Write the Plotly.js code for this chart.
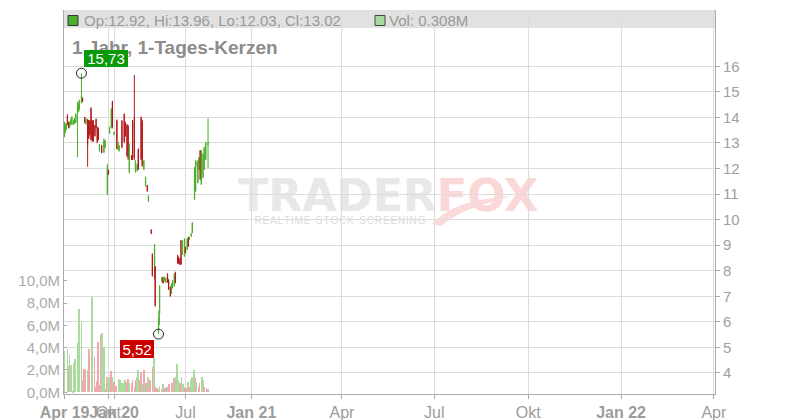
<!DOCTYPE html>
<html><head><meta charset="utf-8">
<script src="https://cdn.plot.ly/plotly-3.0.1.min.js"></script>
<style>html,body{margin:0;padding:0;background:#fff}#chart{width:800px;height:420px}</style>
</head><body><div id="chart"></div>
<script>
// trading-day index of each candle (x axis unit = one trading day)
const candleDay = [0,1,3,5,7,9,11,13,16,18, 20,23,25,26,30,32,36,38,41,43, 45,47,49,51,54,56,58,60,62,66, 70,72,76,78,80,83,85,88,93,95,
  97,102,106,108,111,113,115,119,121,124, 126,129,131,136,138,141,144,147,149,154, 156,160,161,167,168,169,173,175,177,180,
  183,185,188,190,192,195,197,201,202,205, 207,209,213,215,218,220,222,225,227,231, 233,236,237,239,241,243,246,248,251,255];
const openP = [13.35,13.42,13.52,14.05,13.80,13.62,13.72,13.72,13.72,13.78, 13.80,14.22,14.22,14.32,14.58,14.75,14.00,13.75,13.90,13.88,
  13.85,14.35,13.85,13.85,13.68,13.92,13.60,13.55,12.70,12.90, 12.65,12.82,11.00,11.94,13.37,13.60,14.60,13.33,13.88,12.75,
  12.70,13.85,14.12,13.80,13.70,13.65,11.85,12.50,13.85,14.00, 11.88,11.92,12.75,14.00,13.85,11.97,11.32,11.34,10.72,9.60,
  8.65,7.70,8.15,5.60,5.90,6.35,7.58,7.72,7.60,7.55, 7.88,7.65,7.36,7.11,7.33,7.40,7.94,8.60,8.53,8.47,
  9.18,8.64,8.57,8.92,8.83,9.31,9.21,9.34,9.48,10.80, 11.12,12.25,11.44,11.96,12.70,11.38,11.65,11.96,12.35,12.92];
const highP = [13.83,13.77,13.77,14.13,13.83,13.85,13.96,14.05,13.92,13.98, 14.17,14.61,14.56,14.70,15.73,14.78,14.02,13.98,13.94,13.90,
  13.90,14.40,13.90,13.90,13.70,13.96,13.64,13.60,12.96,12.92, 13.18,13.12,12.18,11.96,13.64,14.36,14.65,13.44,13.92,13.05,
  12.92,13.90,14.16,13.83,13.74,13.70,12.99,12.53,13.90,15.66, 12.33,12.20,12.79,14.03,13.90,12.33,11.68,11.36,10.96,9.62,
  8.68,9.05,8.19,6.14,6.46,7.44,7.77,7.75,7.77,7.74, 7.90,7.67,7.38,7.51,7.64,7.90,7.96,8.62,8.55,8.49,
  9.20,9.20,9.27,8.94,9.27,9.33,9.33,9.47,9.90,12.07, 12.33,12.27,12.33,12.46,12.72,12.72,12.60,12.85,13.05,13.96];
const lowP = [13.22,13.38,13.50,13.70,13.57,13.58,13.70,13.70,13.70,13.75, 13.78,12.44,14.20,14.30,14.55,14.60,13.77,13.72,12.07,13.15,
  13.30,13.10,13.05,13.05,13.25,13.57,12.99,13.10,12.66,12.60, 12.60,12.80,10.96,11.75,13.35,13.57,13.57,13.31,12.75,12.72,
  12.66,12.79,12.99,13.24,12.46,12.33,11.81,12.33,12.33,12.33, 11.84,11.88,11.94,12.33,12.07,11.94,11.29,11.09,10.70,9.44,
  7.77,7.66,6.59,5.52,5.88,6.33,7.57,7.50,7.57,7.53, 7.53,7.25,6.99,7.09,7.31,7.38,7.51,8.29,8.26,8.23,
  8.23,8.62,8.55,8.68,8.81,8.94,9.20,9.33,9.47,10.77, 11.09,12.07,11.42,11.94,11.55,11.36,11.62,11.94,12.33,12.03];
const closeP = [13.70,13.70,13.72,13.75,13.62,13.80,13.90,14.00,13.88,13.95, 14.12,14.48,14.52,14.65,14.85,14.62,13.80,13.92,12.90,13.20,
  13.35,13.15,13.10,13.08,13.28,13.60,13.05,13.15,12.92,12.62, 13.12,13.08,12.10,11.77,13.60,14.30,13.62,13.42,12.80,13.00,
  12.88,12.85,13.05,13.28,12.50,12.40,12.90,12.36,12.38,12.40, 12.30,12.15,11.98,12.38,12.12,12.30,11.65,11.11,10.93,9.46,
  7.80,9.00,6.65,6.10,6.42,7.40,7.75,7.52,7.74,7.70, 7.55,7.27,7.01,7.48,7.62,7.87,7.53,8.31,8.28,8.25,
  8.26,9.17,9.24,8.70,9.24,8.96,9.31,9.45,9.88,12.00, 12.30,12.09,12.30,12.42,11.60,12.68,12.55,12.82,13.00,13.02];

// volume (millions)
const volDay = [0,5,7,9,12,15,17,19,23,25, 26,30,32,35,37,41,42,44,48,49, 53,55,58,60,62,65,67,70,73,76, 77,80,83,85,88,92,96,99,102,104,
  108,111,113,115,119,121,124,127,129,131, 134,136,138,141,143,145,148,150,152,156, 159,161,164,167,169,173,175,179,181,184,
  186,190,192,194,198,200,202,205,208,211, 213,216,219,221,224,226,230,232,234,238, 240,244,246,248,252,255];
const volume = [3.7,3.9,2.35,3.35,2.45,0.1,2.6,3.0,4.45,4.0, 7.45,6.3,1.1,2.1,2.0,1.3,2.0,3.9,2.5,8.55, 3.2,0.5,1.0,4.5,0.65,5.15,5.35,4.05,0.3,1.4,
  1.1,1.4,1.95,1.4,0.9,0.6,1.2,1.1,0.85,0.8, 1.1,0.95,1.2,0.85,0.8,1.1,0.5,1.1,1.4,2.0, 1.1,1.85,0.7,2.0,0.7,0.85,1.4,0.5,1.1,2.3,
  3.1,0.5,0.35,0.3,0.6,0.3,0.7,0.35,0.5,0.45, 0.7,0.85,0.8,1.25,1.4,2.5,1.1,0.85,1.4,0.7, 0.5,0.35,0.95,0.5,1.1,1.4,2.0,1.25,0.95,0.5,
  0.8,1.4,1.1,0.5,0.35,0.308];
const volUp = [1,1,0,1,1,0,1,1,1,1, 1,1,0,0,0,0,1,0,0,1, 0,0,0,0,0,0,1,1,0,0, 1,1,0,1,0,0,1,1,1,1, 1,0,0,1,0,0,0,0,1,1,
  0,0,1,0,1,0,1,0,0,0, 1,0,0,1,1,0,1,0,0,1, 0,0,1,0,1,1,1,0,1,1, 0,0,1,0,1,1,1,0,1,0, 0,1,1,0,0,1];

const xTickVals = [0,78,88,215,332,493,657,824,989,1154];
const xTickText = ['<b>Apr 19</b>','Okt','<b>Jan 20</b>','Jul','<b>Jan 21</b>','Apr','Jul','Okt','<b>Jan 22</b>','Apr'];
const priceTicks = [4,5,6,7,8,9,10,11,12,13,14,15,16];
const volTicks = [0,2,4,6,8,10];
const volTickText = volTicks.map(v => v.toFixed(1).replace('.', ',') + 'M');

const GREEN = '#4cae2a', RED = '#b31616';
const last = candleDay.length - 1;
let iMax = 0, iMin = 0;
highP.forEach((v,i)=>{ if (v > highP[iMax]) iMax = i; });
lowP.forEach((v,i)=>{ if (v < lowP[iMin]) iMin = i; });
const fmtDE = v => v.toFixed(2).replace('.', ',');

const traces = [
  { type:'bar', x: volDay, y: volume, width: 1.2, xaxis:'x', yaxis:'y',
    marker:{ color: volUp.map(u => u ? '#a9dba1' : '#f2a7ae'), line:{width:0} }, hoverinfo:'skip' },
  { type:'candlestick', x: candleDay, open: openP, high: highP, low: lowP, close: closeP,
    xaxis:'x', yaxis:'y2', whiskerwidth:0, hoverinfo:'skip',
    increasing:{ line:{color:GREEN, width:1}, fillcolor:GREEN },
    decreasing:{ line:{color:RED, width:1}, fillcolor:RED } },
  { type:'scatter', mode:'markers', xaxis:'x', yaxis:'y2', hoverinfo:'skip',
    x:[candleDay[iMax], candleDay[iMin]], y:[highP[iMax], lowP[iMin]],
    marker:{ symbol:'circle-open', size:10, color:'#222', line:{width:1} } }
];

// helpers for decorative watermark (plot-area pixel -> paper)
const PL = 64, PW = 651, PB = 394, PH = 384;
const px = x => (x - PL) / PW, py = y => (PB - y) / PH;
const tail = 'M ' + px(432) + ',' + py(224) + ' C ' + px(450) + ',' + py(204) + ' ' + px(480) + ',' + py(198) + ' ' + px(512) + ',' + py(196) +
  ' C ' + px(485) + ',' + py(204) + ' ' + px(460) + ',' + py(210) + ' ' + px(441) + ',' + py(226) + ' Z';

const layout = {
  width:800, height:420, margin:{l:64, r:85, t:10, b:26},
  paper_bgcolor:'#ffffff', plot_bgcolor:'#ffffff', showlegend:false,
  font:{family:'"Liberation Sans", Arial, sans-serif', color:'#999'},
  separators:',.', bargap:0,
  title:{ text:'1 Jahr, 1-Tages-Kerzen', xref:'container', yref:'container', x:0.09, y:1-47/420,
    xanchor:'left', yanchor:'middle', font:{size:19, color:'#8c8c8c', weight:'bold'} },
  xaxis:{ range:[-1,1156], tickmode:'array', tickvals:xTickVals, ticktext:xTickText, tickangle:0,
    showgrid:true, gridcolor:'#dcdcdc', gridwidth:1, showline:true, linecolor:'#aaaaaa', ticks:'outside',
    ticklen:4, tickcolor:'#aaaaaa', tickfont:{size:16, color:'#9c9c9c'}, zeroline:false,
    rangeslider:{visible:false}, fixedrange:true },
  yaxis:{ range:[-0.152,34.26], side:'left', tickmode:'array', tickvals:volTicks, ticktext:volTickText,
    showgrid:false, showline:true, linecolor:'#aaaaaa', ticks:'inside', ticklen:3, tickcolor:'#aaaaaa',
    tickfont:{size:15, color:'#ababab'}, zeroline:false, fixedrange:true },
  yaxis2:{ overlaying:'y', side:'right', range:[3.178,18.203], tickmode:'array', tickvals:priceTicks,
    showgrid:true, gridcolor:'#dcdcdc', showline:true, linecolor:'#aaaaaa', ticks:'outside', ticklen:4,
    tickcolor:'#aaaaaa', tickfont:{size:15, color:'#a0a0a0'}, zeroline:false, fixedrange:true },
  shapes:[
    { type:'rect', layer:'below', xref:'paper', yref:'paper', x0:0, x1:1, ysizemode:'pixel', yanchor:1, y0:0, y1:-18,
      fillcolor:'#e1e1e1', line:{width:0} },
    { type:'rect', xref:'paper', yref:'paper', xsizemode:'pixel', ysizemode:'pixel', xanchor:0, yanchor:1,
      x0:4, x1:14, y0:-5.5, y1:-15.5, fillcolor:GREEN, line:{color:'#333', width:1} },
    { type:'rect', xref:'paper', yref:'paper', xsizemode:'pixel', ysizemode:'pixel', xanchor:0, yanchor:1,
      x0:311, x1:321, y0:-5.5, y1:-15.5, fillcolor:'#a9dba1', line:{color:'#444', width:1} },
    { type:'path', layer:'below', xref:'paper', yref:'paper', path:tail, fillcolor:'#fbdada', line:{width:0} },
    { type:'rect', layer:'below', xref:'paper', yref:'paper', x0:px(240), x1:px(435), y0:py(211), y1:py(173),
      fillcolor:'rgba(0,0,0,0)', line:{width:0},
      label:{ text:'TRADER', textposition:'middle center', font:{family:'"DejaVu Sans", sans-serif', size:44, color:'#e8e8e8', weight:'bold'} } },
    { type:'rect', layer:'below', xref:'paper', yref:'paper', x0:px(435), x1:px(540), y0:py(211), y1:py(173),
      fillcolor:'rgba(0,0,0,0)', line:{width:0},
      label:{ text:'FOX', textposition:'middle center', font:{family:'"DejaVu Sans", sans-serif', size:45, color:'#fbd8d8', weight:'bold'} } },
    { type:'rect', layer:'below', xref:'paper', yref:'paper', x0:px(250), x1:px(430), y0:py(225), y1:py(213),
      fillcolor:'rgba(0,0,0,0)', line:{width:0},
      label:{ text:'R\u200AE\u200AA\u200AL\u200AT\u200AI\u200AM\u200AE  S\u200AT\u200AO\u200AC\u200AK  S\u200AC\u200AR\u200AE\u200AE\u200AN\u200AI\u200AN\u200AG',
        textposition:'middle center', font:{family:'"Liberation Sans", sans-serif', size:10, color:'#dcdcdc'} } }
  ],
  annotations:[
    { xref:'paper', yref:'paper', x:0, y:1, xanchor:'left', yanchor:'middle', xshift:20, yshift:-10, showarrow:false,
      borderpad:0, borderwidth:0,
      text:'Op:' + openP[last].toFixed(2) + ', Hi:' + highP[last].toFixed(2) + ', Lo:' + lowP[last].toFixed(2) + ', Cl:' + closeP[last].toFixed(2),
      font:{size:15, color:'#999'} },
    { xref:'paper', yref:'paper', x:0, y:1, xanchor:'left', yanchor:'middle', xshift:325, yshift:-10, showarrow:false,
      borderpad:0, borderwidth:0, text:'Vol: ' + volume[volume.length-1].toFixed(3) + 'M', font:{size:15, color:'#999'} },
    { xref:'x', yref:'y2', x:candleDay[iMax], y:highP[iMax], xanchor:'left', yanchor:'bottom', xshift:2.5, yshift:6,
      showarrow:false, text:fmtDE(highP[iMax]), bgcolor:'#0a990a', borderpad:1, borderwidth:0, width:42, height:15,
      font:{size:15, color:'#ffffff'} },
    { xref:'x', yref:'y2', x:candleDay[iMin], y:lowP[iMin], xanchor:'right', yanchor:'top', xshift:-4.5, yshift:-5.5,
      showarrow:false, text:fmtDE(lowP[iMin]), bgcolor:'#cc0000', borderpad:1, borderwidth:0, width:32, height:16,
      font:{size:15, color:'#ffffff'} }
  ]
};

Plotly.newPlot('chart', traces, layout, {displayModeBar:false, responsive:false});
</script>
</body></html>
